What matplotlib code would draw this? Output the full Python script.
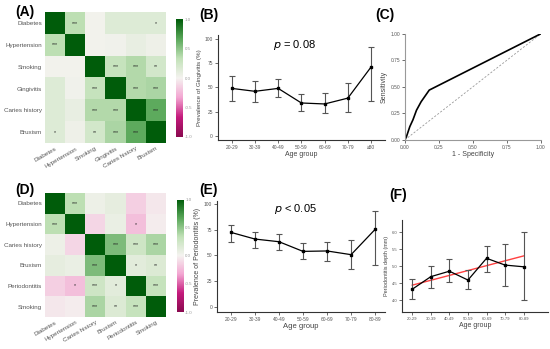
import numpy as np
import matplotlib.pyplot as plt
from matplotlib.colors import LinearSegmentedColormap

plt.rcParams['font.family'] = ['Liberation Sans', 'DejaVu Sans']

# (A) correlations, gingivitis data set
vars_a = ['Diabetes', 'Hypertension', 'Smoking', 'Gingivitis', 'Caries history', 'Bruxism']
corr_a = np.array([
    [1.00, 0.35, 0.02, 0.15, 0.15, 0.15],
    [0.35, 1.00, 0.02, 0.03, 0.08, 0.04],
    [0.02, 0.02, 1.00, 0.30, 0.38, 0.22],
    [0.15, 0.03, 0.30, 1.00, 0.38, 0.40],
    [0.15, 0.08, 0.38, 0.38, 1.00, 0.65],
    [0.15, 0.04, 0.22, 0.40, 0.65, 1.00],
])
stars_a = [
    ['', '***', '', '', '', '*'],
    ['***', '', '', '', '', ''],
    ['', '', '', '***', '***', '**'],
    ['', '', '***', '', '***', '***'],
    ['', '', '***', '***', '', '***'],
    ['*', '', '**', '***', '***', ''],
]

# (D) correlations, periodontitis data set
vars_d = ['Diabetes', 'Hypertension', 'Caries history', 'Bruxism', 'Periodontitis', 'Smoking']
corr_d = np.array([
    [1.00, 0.35, 0.05, 0.10, -0.15, -0.05],
    [0.35, 1.00, -0.12, 0.07, -0.22, -0.03],
    [0.05, -0.12, 1.00, 0.55, 0.25, 0.40],
    [0.10, 0.07, 0.55, 1.00, 0.12, 0.16],
    [-0.15, -0.22, 0.25, 0.12, 1.00, 0.30],
    [-0.05, -0.03, 0.40, 0.16, 0.30, 1.00],
])
stars_d = [
    ['', '***', '', '', '', ''],
    ['***', '', '', '', '*', ''],
    ['', '', '', '***', '***', '***'],
    ['', '', '***', '', '*', '**'],
    ['', '*', '***', '*', '', '***'],
    ['', '', '***', '**', '***', ''],
]

# (B) gingivitis prevalence by age
ages_b = ['20-29', '30-39', '40-49', '50-59', '60-69', '70-79', '\u226580']
ging = [49, 46, 49, 34, 33, 39, 71]
ging_lo = [36, 35, 40, 26, 24, 25, 36]
ging_hi = [62, 57, 59, 43, 44, 55, 92]

# (C) ROC curve
fpr = [0.0, 0.012, 0.037, 0.06, 0.086, 0.12, 0.18, 1.0]
tpr = [0.0, 0.03, 0.126, 0.19, 0.28, 0.36, 0.47, 1.0]

# (E) periodontitis prevalence by age
ages = ['20-29', '30-39', '40-49', '50-59', '60-69', '70-79', '80-89']
perio = [72.5, 66, 63.4, 54, 54.4, 50.8, 75.4]
perio_lo = [63.4, 57.6, 55, 46.6, 45, 37, 41]
perio_hi = [80, 73, 70.6, 62, 63.4, 64.8, 93]

# (F) periodontitis depth by age
depth = [4.32, 4.69, 4.85, 4.59, 5.23, 5.03, 4.98]
depth_lo = [4.02, 4.37, 4.52, 4.32, 4.83, 4.42, 3.99]
depth_hi = [4.61, 5.00, 5.20, 4.88, 5.60, 5.64, 6.00]
trend_y = [4.44, 5.30]

cmap = LinearSegmentedColormap.from_list(
    'corr', ['#8b0a50', '#c51b7d', '#f3a6d2', '#f5f3f0', '#c2e2b8', '#5aa85a', '#005c0a'])

fig = plt.figure(figsize=(5.5, 3.49), dpi=100)


def heatmap(rect, cbrect, mat, stars, labels):
    ax = fig.add_axes(rect)
    ax.imshow(mat, cmap=cmap, vmin=-1, vmax=1, aspect='auto')
    n = len(labels)
    for i in range(n):
        for j in range(n):
            if stars[i][j]:
                ax.text(j, i, stars[i][j], ha='center', va='center', fontsize=3.8, color='#222222')
    ax.set_xticks(range(n))
    ax.set_yticks(range(n))
    ax.set_xticklabels(labels, rotation=30, ha='right', rotation_mode='anchor',
                       fontsize=4.5, color='#555555')
    ax.set_yticklabels(labels, fontsize=4.5, color='#555555')
    ax.tick_params(length=0, pad=2)
    for s in ax.spines.values():
        s.set_visible(False)
    cax = fig.add_axes(cbrect)
    grad = np.linspace(1, -1, 200).reshape(-1, 1)
    cax.imshow(grad, cmap=cmap, vmin=-1, vmax=1, aspect='auto', extent=[0, 1, -1, 1])
    cax.set_xticks([])
    cax.yaxis.tick_right()
    cax.set_yticks([1, 0.5, 0, -0.5, -1])
    cax.set_yticklabels(['1.0', '0.5', '0.0', '-0.5', '-1.0'], fontsize=3.2, color='#999999')
    cax.tick_params(length=0, pad=1.5)
    for s in cax.spines.values():
        s.set_visible(False)
    return ax


def style_line_axes(ax):
    for s in ['top', 'right']:
        ax.spines[s].set_visible(False)
    for s in ['left', 'bottom']:
        ax.spines[s].set_color('#333333')
        ax.spines[s].set_linewidth(0.8)
    ax.tick_params(labelsize=3.5, labelcolor='#555555', length=2, width=0.5, color='#333333', pad=1.5)


def age_plot(ax, labels, vals, lo, hi):
    x = np.arange(len(labels))
    yerr = [np.array(vals) - np.array(lo), np.array(hi) - np.array(vals)]
    ax.errorbar(x, vals, yerr=yerr, fmt='none', ecolor='#555555', elinewidth=0.8,
                capsize=2, capthick=0.8)
    ax.plot(x, vals, color='black', lw=0.9, marker='s', ms=2.0)
    ax.set_xticks(x)
    ax.set_xticklabels(labels)
    style_line_axes(ax)


# (A)
heatmap([0.0818, 0.590, 0.22, 0.375], [0.32, 0.6075, 0.0127, 0.338], corr_a, stars_a, vars_a)

# (B)
axb = fig.add_axes([0.396, 0.599, 0.304, 0.301])
age_plot(axb, ages_b, ging, ging_lo, ging_hi)
axb.set_xlim(-0.6, 6.6)
axb.set_ylim(-4, 104)
axb.set_yticks([0, 25, 50, 75, 100])
axb.set_ylabel('Prevalence of Gingivitis (%)', fontsize=4.5, color='#444444', labelpad=2)
axb.set_xlabel('Age group', fontsize=5, color='#444444', labelpad=1)
axb.text(0.46, 0.9, r'$p$ = 0.08', transform=axb.transAxes, fontsize=8, ha='center', va='center')

# (C)
axc = fig.add_axes([0.736, 0.599, 0.247, 0.304])
axc.plot([0, 1], [0, 1], ls=(0, (2.5, 2)), color='#999999', lw=0.6)
axc.plot(fpr, tpr, color='black', lw=1.2)
axc.set_xlim(0, 1)
axc.set_ylim(0, 1)
ticks = [0, 0.25, 0.5, 0.75, 1]
axc.set_xticks(ticks)
axc.set_yticks(ticks)
axc.set_xticklabels(['0.00', '0.25', '0.50', '0.75', '1.00'])
axc.set_yticklabels(['0.00', '0.25', '0.50', '0.75', '1.00'])
style_line_axes(axc)
axc.spines['left'].set_color('#999999')
axc.spines['bottom'].set_color('#999999')
axc.set_xlabel('1 - Specificity', fontsize=5, color='#444444', labelpad=1)
axc.set_ylabel('Sensitivity', fontsize=5, color='#444444', labelpad=2)

# (D)
heatmap([0.0818, 0.0917, 0.22, 0.355], [0.322, 0.106, 0.011, 0.321], corr_d, stars_d, vars_d)

# (E)
axe = fig.add_axes([0.3945, 0.106, 0.305, 0.318])
age_plot(axe, ages, perio, perio_lo, perio_hi)
axe.set_xlim(-0.58, 6.4)
axe.set_ylim(-5, 103)
axe.set_yticks([0, 25, 50, 75, 100])
axe.set_ylabel('Prevalence of Periodontitis (%)', fontsize=5, color='#444444', labelpad=2)
axe.set_xlabel('Age group', fontsize=5.5, color='#444444', labelpad=1)
axe.text(0.47, 0.93, r'$p$ < 0.05', transform=axe.transAxes, fontsize=8, ha='center', va='center')

# (F)
axf = fig.add_axes([0.731, 0.106, 0.265, 0.264])
age_plot(axf, ages, depth, depth_lo, depth_hi)
axf.plot([0, len(ages) - 1], trend_y, color='#ff4040', lw=1.0, zorder=1)
axf.set_xlim(-0.55, 7.3)
axf.set_ylim(3.65, 6.36)
axf.set_yticks([4.0, 4.5, 5.0, 5.5, 6.0])
axf.set_ylabel('Periodontitis depth (mm)', fontsize=4, color='#444444', labelpad=2)
axf.set_xlabel('Age group', fontsize=5, color='#444444', labelpad=1)
axf.tick_params(labelsize=3)

# panel labels
for lab, x, y in [('(A)', 0.027, 0.965), ('(B)', 0.363, 0.958), ('(C)', 0.683, 0.958),
                  ('(D)', 0.027, 0.455), ('(E)', 0.363, 0.455), ('(F)', 0.708, 0.44)]:
    fig.text(x, y, lab, fontsize=10, fontweight='bold', va='center', ha='left')

fig.savefig('out.png', dpi=100)
